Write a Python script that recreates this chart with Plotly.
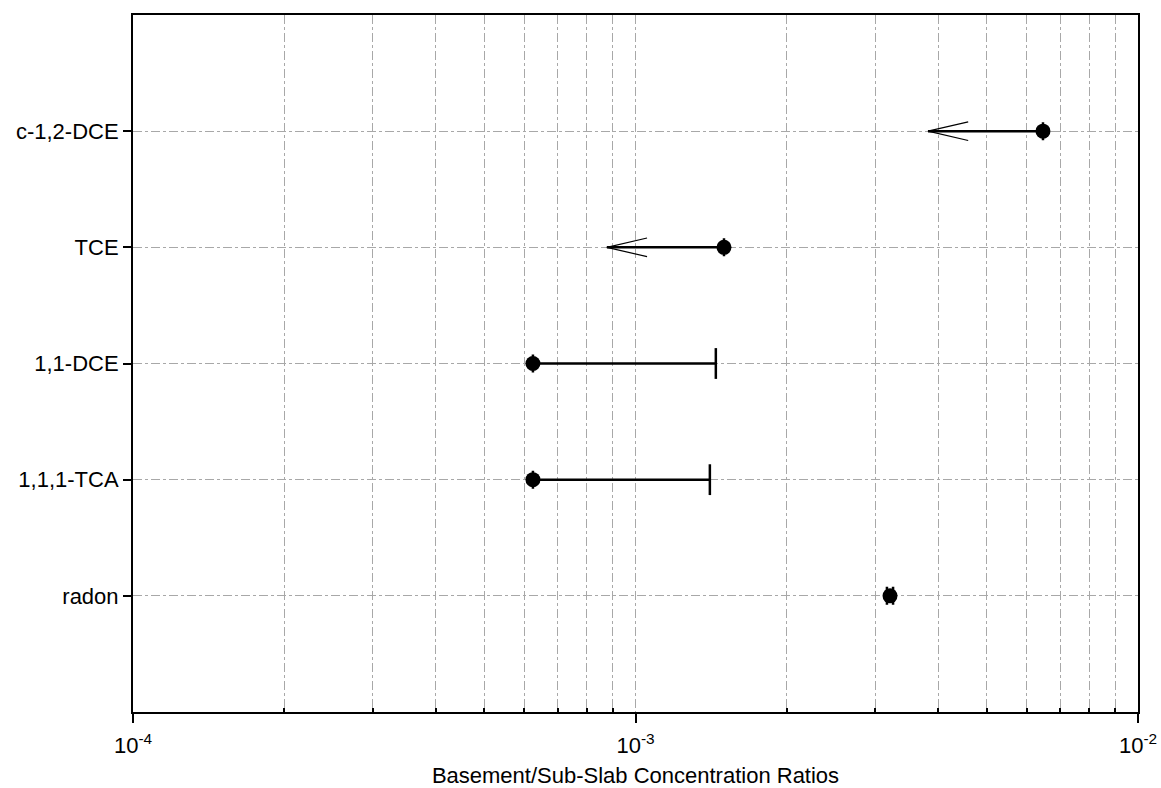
import plotly.graph_objects as go
import numpy as np

# ---- data ----
categories = ["radon", "1,1,1-TCA", "1,1-DCE", "TCE", "c-1,2-DCE"]
point_values = [3.21e-3, 6.25e-4, 6.25e-4, 1.50e-3, 6.47e-3]
# range ends: vertical-cap ends (upper bound) for TCA/DCE
cap_categories = ["1,1,1-TCA", "1,1-DCE"]
cap_values = [1.406e-3, 1.445e-3]
# arrow tips (less-than style) for TCE and c-1,2-DCE
arrow_categories = ["TCE", "c-1,2-DCE"]
arrow_tips = [8.77e-4, 3.82e-3]
# radon uncertainty (small)
radon_err = [0.045e-3]

major_ticks = [1e-4, 1e-3, 1e-2]
major_text = ["10<sup>-4</sup>", "10<sup>-3</sup>", "10<sup>-2</sup>"]
x_title = "Basement/Sub-Slab Concentration Ratios"

ypos = {c: i for i, c in enumerate(categories)}
minor_ticks = [m * 10.0 ** e for e in (-4, -3) for m in range(2, 10)]

fig = go.Figure()

# range lines to caps
for c, v in zip(cap_categories, cap_values):
    y = ypos[c]
    pv = point_values[categories.index(c)]
    fig.add_trace(go.Scatter(x=[pv, v], y=[y, y], mode="lines",
                             line=dict(color="black", width=2.5),
                             showlegend=False, hoverinfo="skip"))
    fig.add_trace(go.Scatter(x=[v], y=[y], mode="markers",
                             marker=dict(symbol="line-ns-open", size=22, color="black",
                                         line=dict(color="black", width=2.5)),
                             showlegend=False, hoverinfo="skip"))

# arrows
head_len = 0.08  # decades
head_half = 0.08  # category units
for c, t in zip(arrow_categories, arrow_tips):
    y = ypos[c]
    pv = point_values[categories.index(c)]
    fig.add_trace(go.Scatter(x=[pv, t], y=[y, y], mode="lines",
                             line=dict(color="black", width=2.5),
                             showlegend=False, hoverinfo="skip"))
    wx = t * 10 ** head_len
    fig.add_trace(go.Scatter(x=[wx, t, wx], y=[y + head_half, y, y - head_half],
                             mode="lines", line=dict(color="black", width=1.2),
                             showlegend=False, hoverinfo="skip"))

# points
fig.add_trace(go.Scatter(
    x=point_values, y=[ypos[c] for c in categories], mode="markers",
    marker=dict(symbol="circle", size=15, color="black"),
    error_x=dict(type="data", array=radon_err + [0] * 4, visible=True,
                 color="black", thickness=2.5, width=9),
    showlegend=False))

fig.update_layout(
    width=1161, height=788,
    margin=dict(l=133, r=23, t=15, b=76),
    paper_bgcolor="white", plot_bgcolor="white",
    font=dict(family="Liberation Sans", size=21, color="black"),
)
fig.update_xaxes(
    type="log", range=[-4, -2], automargin=False,
    tickmode="array", tickvals=major_ticks, ticktext=major_text,
    ticks="outside", ticklen=9, tickwidth=1.5, tickcolor="black",
    ticklabeloverflow="allow", ticklabelstandoff=4,
    showgrid=True, gridcolor="#a8a8a8", griddash="dashdot", gridwidth=1,
    minor=dict(tickmode="array", tickvals=minor_ticks, showgrid=True,
               gridcolor="#a8a8a8", griddash="dashdot", gridwidth=1,
               ticks="inside", ticklen=4, tickcolor="black"),
    showline=True, linecolor="black", linewidth=2, mirror=True,
    zeroline=False,
    title=dict(text=x_title, font=dict(size=22), standoff=14),
    tickfont=dict(size=22),
)
fig.update_yaxes(
    range=[-1, 5], tickmode="array", automargin=False,
    tickvals=[ypos[c] for c in categories], ticktext=categories,
    ticks="outside", ticklen=8, tickwidth=1.5, tickcolor="black",
    showgrid=True, gridcolor="#a8a8a8", griddash="dashdot", gridwidth=1,
    showline=True, linecolor="black", linewidth=2, mirror=True,
    zeroline=False, tickfont=dict(size=22),
)

fig.write_html("out.html", config={"displayModeBar": False},
               post_script="document.body.style.margin='0';")
